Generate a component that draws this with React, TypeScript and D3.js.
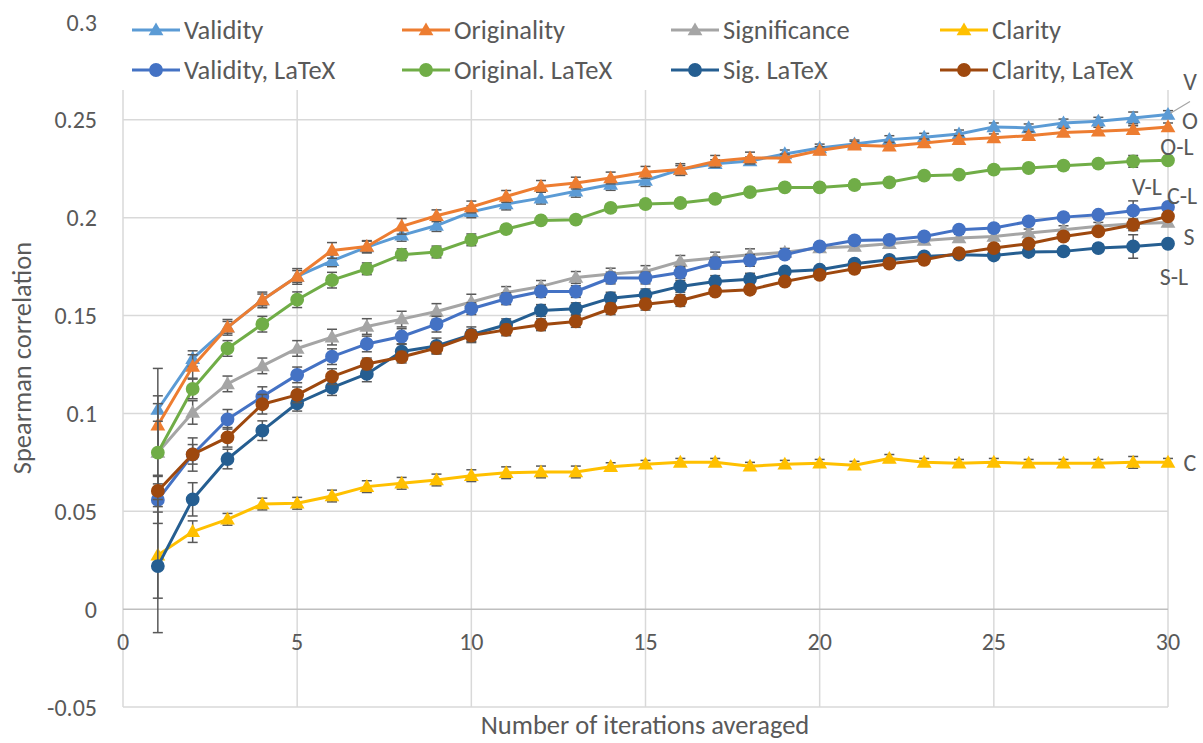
import React from "react";
import * as d3 from "d3";

const iterations = d3.range(1, 31);

const validity = [0.102, 0.128, 0.144, 0.158, 0.170, 0.178, 0.185, 0.191, 0.196, 0.203, 0.207, 0.210, 0.2135, 0.217, 0.219, 0.2246, 0.2276, 0.229, 0.2326, 0.2356, 0.2377, 0.2399, 0.2411, 0.2428, 0.2464, 0.2459, 0.2484, 0.2493, 0.251, 0.2527];
const originality = [0.094, 0.124, 0.144, 0.158, 0.170, 0.1833, 0.1853, 0.1956, 0.201, 0.2055, 0.2109, 0.216, 0.2177, 0.2203, 0.2232, 0.2246, 0.2288, 0.2305, 0.2305, 0.2343, 0.237, 0.2365, 0.2382, 0.2399, 0.2408, 0.2419, 0.2436, 0.2442, 0.245, 0.2464];
const significance = [0.080, 0.1005, 0.1151, 0.1243, 0.1332, 0.139, 0.1444, 0.1482, 0.1521, 0.1569, 0.1618, 0.1649, 0.1695, 0.1712, 0.1725, 0.1777, 0.1794, 0.1811, 0.1823, 0.1845, 0.1853, 0.1867, 0.1884, 0.1896, 0.1904, 0.1922, 0.1939, 0.1956, 0.1969, 0.1976];
const clarity = [0.0276, 0.0396, 0.0459, 0.0537, 0.0541, 0.0578, 0.0626, 0.0643, 0.066, 0.0682, 0.0697, 0.0701, 0.0701, 0.0728, 0.074, 0.075, 0.075, 0.073, 0.074, 0.0745, 0.0735, 0.077, 0.075, 0.0745, 0.075, 0.0745, 0.0745, 0.0745, 0.075, 0.075];
const validityLatex = [0.0558, 0.079, 0.097, 0.1086, 0.1197, 0.129, 0.1355, 0.1393, 0.1456, 0.1535, 0.1586, 0.1623, 0.1623, 0.1692, 0.1692, 0.172, 0.1768, 0.1782, 0.1811, 0.1853, 0.1884, 0.1887, 0.1904, 0.1939, 0.1947, 0.1981, 0.2003, 0.2015, 0.2036, 0.2055];
const originalLatex = [0.080, 0.1125, 0.1332, 0.1456, 0.1581, 0.1681, 0.1739, 0.1811, 0.1825, 0.1887, 0.1942, 0.1986, 0.199, 0.205, 0.207, 0.2075, 0.2096, 0.2131, 0.2155, 0.2155, 0.2167, 0.2181, 0.2215, 0.222, 0.2246, 0.2254, 0.2266, 0.2276, 0.2288, 0.2293];
const sigLatex = [0.022, 0.0561, 0.0767, 0.0912, 0.1052, 0.1132, 0.1202, 0.1316, 0.1345, 0.1402, 0.1453, 0.1526, 0.1535, 0.1589, 0.1606, 0.1649, 0.1674, 0.1686, 0.1725, 0.1734, 0.1765, 0.1785, 0.1802, 0.1811, 0.1807, 0.1825, 0.1828, 0.1845, 0.1853, 0.1867];
const clarityLatex = [0.0604, 0.0791, 0.0878, 0.1047, 0.1095, 0.1188, 0.1253, 0.1288, 0.1334, 0.1398, 0.1427, 0.1453, 0.147, 0.1535, 0.1558, 0.1577, 0.1623, 0.1632, 0.1674, 0.1708, 0.1739, 0.1765, 0.1785, 0.1819, 0.1845, 0.1867, 0.1904, 0.193, 0.1964, 0.2007];

const validityErr = [0.021, 0.004, 0.003, 0.003, 0.003, 0.003, 0.003, 0.003, 0.003, 0.003, 0.003, 0.003, 0.003, 0.003, 0.003, 0.002, 0.002, 0.002, 0.002, 0.002, 0.002, 0.002, 0.002, 0.002, 0.002, 0.002, 0.002, 0.002, 0.003, 0.002];
const originalityErr = [0.015, 0.006, 0.004, 0.004, 0.004, 0.004, 0.003, 0.004, 0.003, 0.003, 0.003, 0.003, 0.003, 0.003, 0.003, 0.003, 0.003, 0.003, 0.002, 0.002, 0.002, 0.002, 0.002, 0.002, 0.002, 0.002, 0.002, 0.002, 0.002, 0.002];
const significanceErr = [0.025, 0.006, 0.004, 0.004, 0.004, 0.004, 0.004, 0.004, 0.004, 0.004, 0.003, 0.003, 0.003, 0.003, 0.003, 0.003, 0.003, 0.003, 0.002, 0.002, 0.002, 0.002, 0.002, 0.002, 0.002, 0.002, 0.002, 0.002, 0.002, 0.002];
const clarityErr = [0.022, 0.0055, 0.003, 0.003, 0.003, 0.003, 0.003, 0.003, 0.003, 0.003, 0.003, 0.003, 0.003, 0.002, 0.002, 0.002, 0.002, 0.002, 0.002, 0.002, 0.002, 0.002, 0.002, 0.002, 0.002, 0.002, 0.002, 0.002, 0.003, 0.002];
const validityLatexErr = [0.012, 0.0085, 0.005, 0.005, 0.004, 0.004, 0.004, 0.004, 0.004, 0.003, 0.003, 0.003, 0.003, 0.003, 0.003, 0.003, 0.003, 0.003, 0.002, 0.002, 0.002, 0.002, 0.002, 0.002, 0.002, 0.002, 0.002, 0.002, 0.005, 0.002];
const originalLatexErr = [0.016, 0.005, 0.004, 0.004, 0.004, 0.004, 0.003, 0.003, 0.003, 0.003, 0.002, 0.002, 0.002, 0.002, 0.002, 0.002, 0.002, 0.002, 0.002, 0.002, 0.002, 0.002, 0.002, 0.002, 0.002, 0.002, 0.002, 0.002, 0.003, 0.002];
const sigLatexErr = [0.034, 0.0085, 0.005, 0.005, 0.004, 0.004, 0.004, 0.004, 0.004, 0.004, 0.003, 0.003, 0.003, 0.003, 0.003, 0.003, 0.003, 0.003, 0.002, 0.002, 0.002, 0.002, 0.002, 0.002, 0.002, 0.002, 0.002, 0.002, 0.006, 0.002];
const clarityLatexErr = [0.008, 0.005, 0.005, 0.005, 0.004, 0.004, 0.003, 0.003, 0.003, 0.003, 0.003, 0.003, 0.003, 0.003, 0.003, 0.003, 0.002, 0.002, 0.002, 0.002, 0.002, 0.002, 0.002, 0.002, 0.002, 0.002, 0.002, 0.002, 0.003, 0.002];

const seriesNames = ["Validity", "Originality", "Significance", "Clarity", "Validity, LaTeX", "Original. LaTeX", "Sig. LaTeX", "Clarity, LaTeX"];
const seriesValues = [validity, originality, significance, clarity, validityLatex, originalLatex, sigLatex, clarityLatex];
const seriesErrors = [validityErr, originalityErr, significanceErr, clarityErr, validityLatexErr, originalLatexErr, sigLatexErr, clarityLatexErr];
const seriesColors = ["#5B9BD5", "#ED7D31", "#A5A5A5", "#FFC000", "#4472C4", "#70AD47", "#255E91", "#9E480E"];
const seriesMarkers = ["triangle", "triangle", "triangle", "triangle", "circle", "circle", "circle", "circle"];
const endLabels = ["V", "O", "S", "C", "V-L", "O-L", "S-L", "C-L"];
// label offsets from last point (px)
const endLabelOffsets = [[22, -33], [22, -6], [21, 14], [22, 0], [-21, -20], [9, -14], [6, 33], [14, -21]];

const xTicks = [0, 5, 10, 15, 20, 25, 30];
const yTicks = [-0.05, 0, 0.05, 0.1, 0.15, 0.2, 0.25, 0.3];
const yTickLabels = ["-0.05", "0", "0.05", "0.1", "0.15", "0.2", "0.25", "0.3"];

const W = 1203, H = 743;
const FONT = "Carlito, Calibri, Lato, sans-serif";
const TXT = "#595959";
const NUM_SIZE = 24;
const WORD_SIZE = 26.5;

export default function App() {
  const x = d3.scaleLinear().domain([0, 30]).range([123, 1168]);
  const y = d3.scaleLinear().domain([-0.05, 0.3]).range([707, 22]);
  const line = d3.line<number>().x((_, i) => x(iterations[i])).y((d) => y(d));
  const tri = d3.symbol().type(d3.symbolTriangle).size(95)();
  const circ = d3.symbol().type(d3.symbolCircle).size(150)();

  const marker = (kind: string, color: string, cx: number, cy: number, key?: any) =>
    kind === "triangle" ? (
      <path key={key} d={tri as string} transform={`translate(${cx},${cy + 1})`} fill={color} />
    ) : (
      <path key={key} d={circ as string} transform={`translate(${cx},${cy})`} fill={color} />
    );

  const legendCols = [132, 402, 671, 940];
  const legendRows = [30, 70];

  return (
    <svg width={W} height={H} style={{ position: "absolute", left: 0, top: 0, background: "#fff" }} fontFamily={FONT}>
      {/* vertical gridlines */}
      {xTicks.map((t) => (
        <line key={"vx" + t} x1={x(t)} x2={x(t)} y1={y(0.3)} y2={y(-0.05)} stroke="#D9D9D9" strokeWidth={1.5} />
      ))}
      {/* horizontal gridlines */}
      {yTicks.filter((t) => t !== 0).map((t) => (
        <line key={"hy" + t} x1={x(0)} x2={x(30)} y1={y(t)} y2={y(t)} stroke="#D9D9D9" strokeWidth={1.5} />
      ))}
      <line x1={x(0)} x2={x(30)} y1={y(0)} y2={y(0)} stroke="#BFBFBF" strokeWidth={1.5} />

      {/* legend background covering top of plot */}
      <rect x={110} y={0} width={1070} height={90} fill="#fff" />

      {/* y tick labels */}
      {yTicks.map((t, i) => (
        <text key={"yl" + t} x={97} y={y(t)} textAnchor="end" dominantBaseline="central" fontSize={NUM_SIZE} fill={TXT}>
          {yTickLabels[i]}
        </text>
      ))}
      {/* x tick labels */}
      {xTicks.map((t) => (
        <text key={"xl" + t} x={x(t)} y={641} textAnchor="middle" dominantBaseline="central" fontSize={NUM_SIZE} fill={TXT}>
          {t}
        </text>
      ))}
      <text x={645} y={725} textAnchor="middle" dominantBaseline="central" fontSize={WORD_SIZE} fill={TXT}>
        Number of iterations averaged
      </text>
      <text transform={`translate(22,358) rotate(-90)`} textAnchor="middle" dominantBaseline="central" fontSize={WORD_SIZE} fill={TXT}>
        Spearman correlation
      </text>

      {/* series */}
      {seriesValues.map((vals, si) => (
        <g key={"s" + si}>
          <path d={line(vals) as string} fill="none" stroke={seriesColors[si]} strokeWidth={3} strokeLinejoin="round" />
          {vals.map((v, i) => {
            const e = seriesErrors[si][i];
            const cx = x(iterations[i]);
            return (
              <g key={"e" + i} stroke="#595959" strokeWidth={1.5}>
                <line x1={cx} x2={cx} y1={y(v + e)} y2={y(v - e)} />
                <line x1={cx - 5} x2={cx + 5} y1={y(v + e)} y2={y(v + e)} />
                <line x1={cx - 5} x2={cx + 5} y1={y(v - e)} y2={y(v - e)} />
              </g>
            );
          })}
          {vals.map((v, i) => marker(seriesMarkers[si], seriesColors[si], x(iterations[i]), y(v), "m" + i))}
        </g>
      ))}

      {/* end labels */}
      {seriesValues.map((vals, si) => {
        const lx = x(30) + endLabelOffsets[si][0];
        const ly = y(vals[vals.length - 1]) + endLabelOffsets[si][1];
        return (
          <text key={"el" + si} x={lx} y={ly} textAnchor="middle" dominantBaseline="central" fontSize={NUM_SIZE} fill={TXT}>
            {endLabels[si]}
          </text>
        );
      })}
      <line x1={x(30) + 2} y1={y(validity[29]) - 1} x2={x(30) + 22} y2={y(validity[29]) - 13} stroke="#A5A5A5" strokeWidth={1.2} />

      {/* legend */}
      {seriesNames.map((name, si) => {
        const col = si % 4;
        const row = Math.floor(si / 4);
        const lx = legendCols[col];
        const ly = legendRows[row];
        return (
          <g key={"lg" + si}>
            <line x1={lx} x2={lx + 48} y1={ly} y2={ly} stroke={seriesColors[si]} strokeWidth={3} />
            {marker(seriesMarkers[si], seriesColors[si], lx + 24, ly)}
            <text x={lx + 52} y={ly} dominantBaseline="central" fontSize={WORD_SIZE} fill={TXT}>
              {name}
            </text>
          </g>
        );
      })}
    </svg>
  );
}
